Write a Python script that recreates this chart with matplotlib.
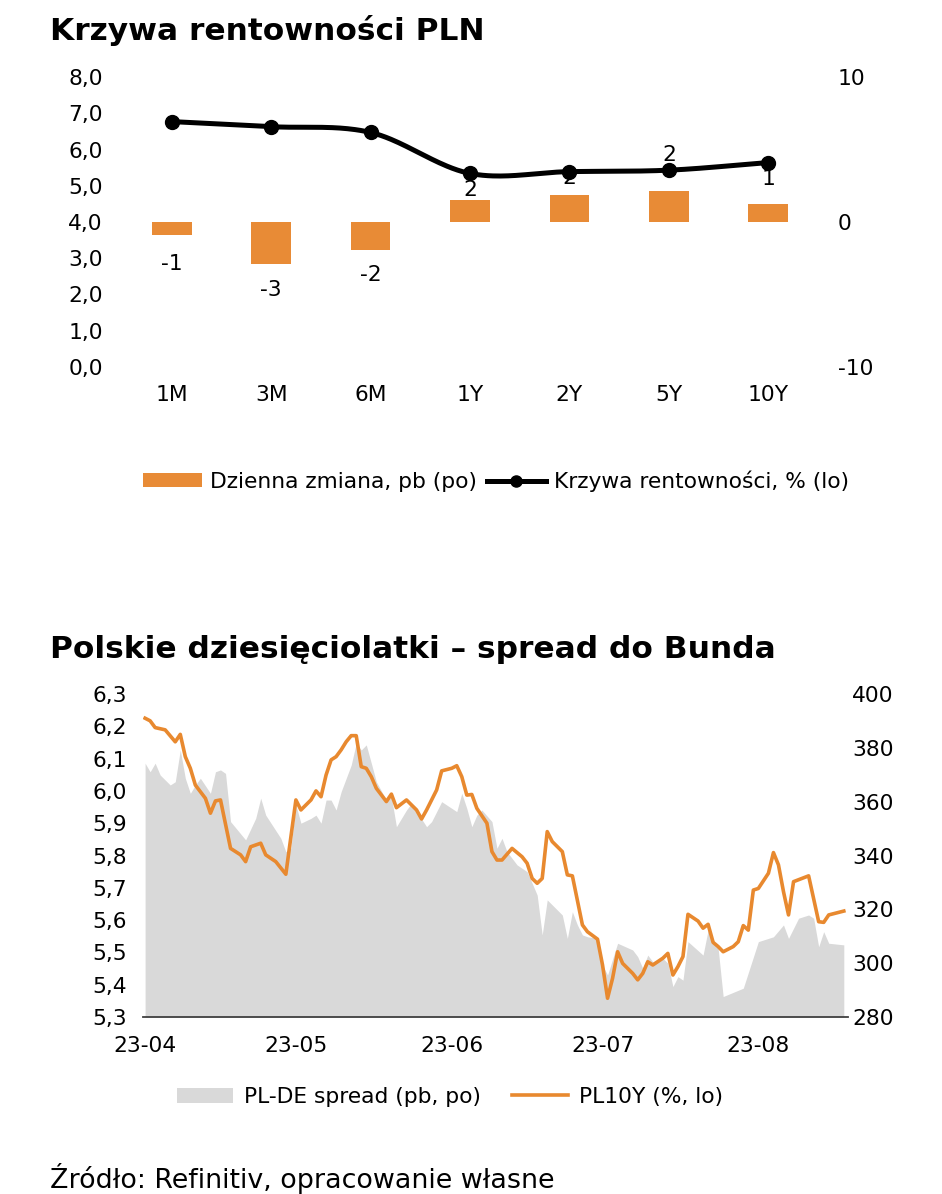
import numpy as np
import pandas as pd
import matplotlib
matplotlib.use("Agg")
import matplotlib.pyplot as plt
import matplotlib.dates as mdates
from matplotlib.ticker import FuncFormatter, FixedLocator
from matplotlib.lines import Line2D
from matplotlib.patches import Patch

plt.rcParams['font.family'] = ['DejaVu Sans']

# ---------------- data: top chart ----------------
tenors = ["1M", "3M", "6M", "1Y", "2Y", "5Y", "10Y"]
yield_curve = [6.77, 6.63, 6.47, 5.34, 5.39, 5.43, 5.64]      # %, left axis
daily_change = [-0.92, -2.90, -1.93, 1.54, 1.88, 2.11, 1.26]  # pb, right axis
change_labels = ["-1", "-3", "-2", "2", "2", "2", "1"]
left_ticks_top = [0, 1, 2, 3, 4, 5, 6, 7, 8]
right_ticks_top = [-10, 0, 10]

# ---------------- data: bottom chart ----------------
pl10y_dates = [
    "2023-04-01", "2023-04-02", "2023-04-03", "2023-04-05", "2023-04-07", "2023-04-08", "2023-04-09",
    "2023-04-10", "2023-04-11", "2023-04-13", "2023-04-14", "2023-04-15", "2023-04-16", "2023-04-18",
    "2023-04-20", "2023-04-21", "2023-04-22", "2023-04-24", "2023-04-25", "2023-04-27", "2023-04-29",
    "2023-05-01", "2023-05-02", "2023-05-04", "2023-05-05", "2023-05-06", "2023-05-07", "2023-05-08",
    "2023-05-09", "2023-05-10", "2023-05-11", "2023-05-12", "2023-05-13", "2023-05-14", "2023-05-15",
    "2023-05-16", "2023-05-17", "2023-05-19", "2023-05-20", "2023-05-21", "2023-05-23", "2023-05-25",
    "2023-05-26", "2023-05-27", "2023-05-29", "2023-05-30", "2023-06-01", "2023-06-02", "2023-06-03",
    "2023-06-04", "2023-06-05", "2023-06-06", "2023-06-08", "2023-06-09", "2023-06-10", "2023-06-11",
    "2023-06-13", "2023-06-15", "2023-06-16", "2023-06-17", "2023-06-18", "2023-06-19", "2023-06-20",
    "2023-06-21", "2023-06-23", "2023-06-24", "2023-06-25", "2023-06-27", "2023-06-28", "2023-06-30",
    "2023-07-01", "2023-07-02", "2023-07-03", "2023-07-04", "2023-07-05", "2023-07-07", "2023-07-08",
    "2023-07-09", "2023-07-10", "2023-07-11", "2023-07-13", "2023-07-14", "2023-07-15", "2023-07-16",
    "2023-07-17", "2023-07-18", "2023-07-20", "2023-07-21", "2023-07-22", "2023-07-23", "2023-07-24",
    "2023-07-25", "2023-07-27", "2023-07-28", "2023-07-29", "2023-07-30", "2023-07-31", "2023-08-01",
    "2023-08-03", "2023-08-04", "2023-08-05", "2023-08-06", "2023-08-07", "2023-08-08", "2023-08-11",
    "2023-08-13", "2023-08-14", "2023-08-15", "2023-08-18",
]
pl10y_values = [
    6.225, 6.217, 6.196, 6.189, 6.152, 6.175, 6.106,
    6.070, 6.018, 5.977, 5.931, 5.969, 5.972, 5.822,
    5.802, 5.781, 5.827, 5.838, 5.802, 5.781, 5.742,
    5.972, 5.941, 5.972, 6.000, 5.982, 6.049, 6.096,
    6.106, 6.127, 6.152, 6.171, 6.171, 6.075, 6.070,
    6.044, 6.008, 5.967, 5.990, 5.948, 5.972, 5.941,
    5.913, 5.941, 6.003, 6.062, 6.070, 6.078, 6.044,
    5.987, 5.989, 5.946, 5.900, 5.812, 5.786, 5.786,
    5.822, 5.796, 5.776, 5.729, 5.714, 5.729, 5.874,
    5.843, 5.812, 5.740, 5.737, 5.585, 5.564, 5.541,
    5.461, 5.358, 5.420, 5.502, 5.466, 5.435, 5.415,
    5.435, 5.471, 5.461, 5.482, 5.497, 5.430, 5.456,
    5.487, 5.618, 5.597, 5.575, 5.587, 5.531, 5.518,
    5.502, 5.518, 5.533, 5.583, 5.569, 5.693, 5.698,
    5.745, 5.809, 5.771, 5.688, 5.616, 5.719, 5.737,
    5.595, 5.593, 5.616, 5.628,
]
spread_dates = [
    "2023-04-01", "2023-04-02", "2023-04-03", "2023-04-04", "2023-04-06", "2023-04-07", "2023-04-08",
    "2023-04-09", "2023-04-10", "2023-04-11", "2023-04-12", "2023-04-14", "2023-04-15", "2023-04-16",
    "2023-04-17", "2023-04-18", "2023-04-21", "2023-04-23", "2023-04-24", "2023-04-25", "2023-04-28",
    "2023-04-29", "2023-04-30", "2023-05-01", "2023-05-02", "2023-05-04", "2023-05-05", "2023-05-06",
    "2023-05-07", "2023-05-08", "2023-05-09", "2023-05-10", "2023-05-12", "2023-05-13", "2023-05-14",
    "2023-05-15", "2023-05-16", "2023-05-17", "2023-05-19", "2023-05-20", "2023-05-21", "2023-05-23",
    "2023-05-24", "2023-05-27", "2023-05-28", "2023-05-30", "2023-06-02", "2023-06-03", "2023-06-04",
    "2023-06-05", "2023-06-06", "2023-06-07", "2023-06-09", "2023-06-10", "2023-06-11", "2023-06-12",
    "2023-06-14", "2023-06-16", "2023-06-17", "2023-06-18", "2023-06-19", "2023-06-20", "2023-06-23",
    "2023-06-24", "2023-06-25", "2023-06-26", "2023-06-27", "2023-06-28", "2023-06-30", "2023-07-01",
    "2023-07-02", "2023-07-04", "2023-07-07", "2023-07-08", "2023-07-09", "2023-07-10", "2023-07-11",
    "2023-07-13", "2023-07-14", "2023-07-15", "2023-07-16", "2023-07-17", "2023-07-18", "2023-07-21",
    "2023-07-22", "2023-07-24", "2023-07-25", "2023-07-29", "2023-08-01", "2023-08-04", "2023-08-06",
    "2023-08-07", "2023-08-09", "2023-08-11", "2023-08-12", "2023-08-13", "2023-08-14", "2023-08-15",
    "2023-08-18",
]
spread_values = [
    374.3, 371.1, 374.3, 369.9, 366.2, 367.4, 379.2,
    368.7, 363.1, 366.2, 368.7, 363.1, 371.1, 371.8,
    370.5, 352.6, 345.8, 353.8, 361.3, 355.0, 346.4,
    341.4, 342.7, 358.8, 352.0, 353.8, 355.0, 352.0,
    360.6, 360.6, 356.9, 363.7, 373.6, 381.7, 379.2,
    381.1, 374.3, 367.4, 360.6, 361.8, 350.7, 356.9,
    359.4, 350.7, 352.6, 360.0, 356.3, 363.1, 357.5,
    350.7, 355.0, 356.9, 352.6, 342.7, 346.4, 341.4,
    336.5, 334.0, 329.7, 325.3, 310.5, 323.5, 317.9,
    309.2, 319.1, 314.2, 310.5, 309.8, 309.2, 299.3,
    295.6, 307.4, 304.9, 302.4, 298.1, 303.0, 300.5,
    301.8, 300.0, 291.3, 295.0, 293.7, 308.0, 303.0,
    312.3, 305.5, 287.6, 290.7, 308.0, 309.8, 314.2,
    309.2, 316.7, 317.9, 316.7, 306.1, 311.7, 307.4,
    306.8,
]
month_ticks = ["2023-04-01", "2023-05-01", "2023-06-01", "2023-07-01", "2023-08-01"]
left_ticks_bottom = [5.3, 5.4, 5.5, 5.6, 5.7, 5.8, 5.9, 6.0, 6.1, 6.2, 6.3]
right_ticks_bottom = [280, 300, 320, 340, 360, 380, 400]

# ---------------- styling ----------------
ORANGE = "#E88B36"
ORANGE_LINE = "#E8892F"
GREY = "#D9D9D9"
FS = 15.7
TFS = 22.5
W, H = 942, 1194
PT = 0.72  # points per pixel at dpi=100
fig = plt.figure(figsize=(W / 100, H / 100), dpi=100)


def fx(px):
    return px / W


def fy(py):
    return 1 - py / H


def comma(v, _pos=None):
    return f"{v:.1f}".replace(".", ",")


def catmull_rom(xs, ys, n=40):
    xs = np.asarray(xs, float)
    ys = np.asarray(ys, float)
    px = np.concatenate([[2 * xs[0] - xs[1]], xs, [2 * xs[-1] - xs[-2]]])
    py = np.concatenate([[2 * ys[0] - ys[1]], ys, [2 * ys[-1] - ys[-2]]])
    outx, outy = [], []
    t = np.linspace(0, 1, n)
    for i in range(1, len(px) - 2):
        for arr, out in ((px, outx), (py, outy)):
            p0, p1, p2, p3 = arr[i - 1], arr[i], arr[i + 1], arr[i + 2]
            out.extend(0.5 * ((2 * p1) + (-p0 + p2) * t + (2 * p0 - 5 * p1 + 4 * p2 - p3) * t ** 2
                              + (-p0 + 3 * p1 - 3 * p2 + p3) * t ** 3))
    return np.array(outx), np.array(outy)


# ================= top chart =================
fig.text(fx(50), fy(31), "Krzywa rentowności PLN", fontsize=TFS, fontweight="bold",
         ha="left", va="center")

ax1 = fig.add_axes([fx(122), fy(367), fx(818) - fx(122), fy(77) - fy(367)])
ax1b = ax1.twinx()
xpos = np.arange(len(tenors))

# bars: right axis (po)
ax1.bar(xpos, daily_change, width=0.4, color=ORANGE, zorder=2)
ax1.set_ylim(-10, 10)
ax1.set_xlim(-0.5, len(tenors) - 0.5)
ax1.yaxis.tick_right()
ax1.yaxis.set_label_position("right")
ax1.yaxis.set_major_locator(FixedLocator(right_ticks_top))
ax1.yaxis.set_major_formatter(FuncFormatter(lambda v, p: f"{v:.0f}"))
ax1.set_xticks(xpos)
ax1.set_xticklabels(tenors)
ax1.tick_params(axis="x", length=0, pad=18 * PT, labelsize=FS)
ax1.tick_params(axis="y", length=0, pad=20 * PT, labelsize=FS)
label_offsets = [-28.6, -25.7, -25.4, 10, 16.7, 36.7, 25]  # px from bar end
for i, (v, lab, off) in enumerate(zip(daily_change, change_labels, label_offsets)):
    ax1.annotate(lab, xy=(i, v), xytext=(0, off * PT), textcoords="offset points",
                 ha="center", va="center", fontsize=FS, zorder=5)
for s in ax1.spines.values():
    s.set_visible(False)

# line: left axis (lo)
sx, sy = catmull_rom(xpos, yield_curve)
ax1b.plot(sx, sy, color="black", lw=3.6, solid_capstyle="round", zorder=3)
ax1b.plot(xpos, yield_curve, "o", color="black", ms=10, zorder=4)
ax1b.set_ylim(0, 8)
ax1b.yaxis.tick_left()
ax1b.yaxis.set_label_position("left")
ax1b.yaxis.set_major_locator(FixedLocator(left_ticks_top))
ax1b.yaxis.set_major_formatter(FuncFormatter(comma))
ax1b.tick_params(axis="y", length=0, pad=19 * PT, labelsize=FS)
for s in ax1b.spines.values():
    s.set_visible(False)

h1 = [Patch(facecolor=ORANGE, edgecolor="none"),
      Line2D([0], [0], color="black", lw=3.6, marker="o", ms=8)]
fig.legend(h1, ["Dzienna zmiana, pb (po)", "Krzywa rentowności, % (lo)"],
           loc="center", bbox_to_anchor=(fx(496), fy(481)), ncol=2, frameon=False,
           fontsize=FS, handlelength=2.7, handleheight=0.55, handletextpad=0.38,
           columnspacing=0.45, borderaxespad=0, borderpad=0)

# ================= bottom chart =================
fig.text(fx(50), fy(650), "Polskie dziesięciolatki – spread do Bunda", fontsize=TFS,
         fontweight="bold", ha="left", va="center")

ax2 = fig.add_axes([fx(143), fy(1017), fx(848) - fx(143), fy(694) - fy(1017)])
ax2b = ax2.twinx()
x0 = pd.Timestamp("2023-04-01") - pd.Timedelta(hours=10)
x1 = pd.Timestamp("2023-08-18") + pd.Timedelta(hours=20)

# area: right axis (po)
sd = pd.to_datetime(spread_dates)
ax2.fill_between(sd, right_ticks_bottom[0], spread_values, color=GREY, lw=0, zorder=1)
ax2.set_ylim(280, 400)
ax2.yaxis.tick_right()
ax2.yaxis.set_label_position("right")
ax2.yaxis.set_major_locator(FixedLocator(right_ticks_bottom))
ax2.yaxis.set_major_formatter(FuncFormatter(lambda v, p: f"{v:.0f}"))
ax2.tick_params(axis="y", length=0, pad=4 * PT, labelsize=FS)
ax2.set_xlim(x0, x1)
ax2.xaxis.set_major_locator(FixedLocator(mdates.date2num(pd.to_datetime(month_ticks))))
ax2.xaxis.set_major_formatter(mdates.DateFormatter("%y-%m"))
ax2.tick_params(axis="x", length=0, pad=19 * PT, labelsize=FS)
for k, s in ax2.spines.items():
    s.set_visible(k == "bottom")
ax2.spines["bottom"].set_color("#404040")
ax2.spines["bottom"].set_linewidth(1.3)

# line: left axis (lo)
ax2b.plot(pd.to_datetime(pl10y_dates), pl10y_values, color=ORANGE_LINE, lw=2.6, zorder=3)
ax2b.set_ylim(5.3, 6.3)
ax2b.set_xlim(x0, x1)
ax2b.yaxis.tick_left()
ax2b.yaxis.set_label_position("left")
ax2b.yaxis.set_major_locator(FixedLocator(left_ticks_bottom))
ax2b.yaxis.set_major_formatter(FuncFormatter(comma))
ax2b.tick_params(axis="y", length=0, pad=16 * PT, labelsize=FS)
for s in ax2b.spines.values():
    s.set_visible(False)

h2 = [Patch(facecolor=GREY, edgecolor="none"),
      Line2D([0], [0], color=ORANGE_LINE, lw=2.6)]
fig.legend(h2, ["PL-DE spread (pb, po)", "PL10Y (%, lo)"],
           loc="center", bbox_to_anchor=(fx(450), fy(1097)), ncol=2, frameon=False,
           fontsize=FS, handlelength=2.6, handleheight=0.7, handletextpad=0.5,
           columnspacing=1.4, borderaxespad=0, borderpad=0)

fig.text(fx(50), fy(1178), "Źródło: Refinitiv, opracowanie własne", fontsize=19.4,
         ha="left", va="center")

fig.savefig("out.png", dpi=100)
